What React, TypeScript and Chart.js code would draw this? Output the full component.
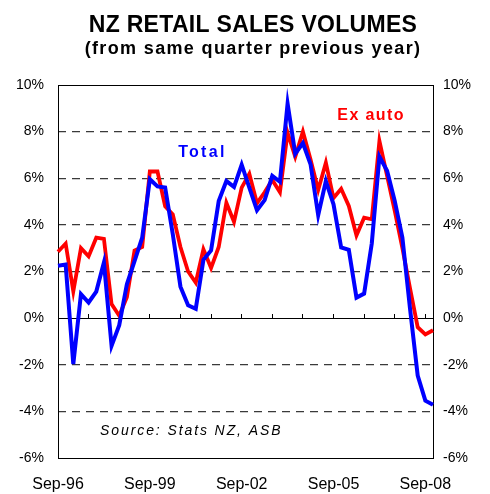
import React, { useEffect, useRef } from 'react';
import { Chart, registerables } from 'chart.js';

Chart.register(...registerables);

const TITLE = 'NZ RETAIL SALES VOLUMES';
const SUBTITLE = '(from same quarter previous year)';
const SOURCE = 'Source: Stats NZ, ASB';

const quarters = [
  'Sep-96', 'Dec-96', 'Mar-97', 'Jun-97', 'Sep-97', 'Dec-97', 'Mar-98', 'Jun-98', 'Sep-98', 'Dec-98',
  'Mar-99', 'Jun-99', 'Sep-99', 'Dec-99', 'Mar-00', 'Jun-00', 'Sep-00', 'Dec-00', 'Mar-01', 'Jun-01',
  'Sep-01', 'Dec-01', 'Mar-02', 'Jun-02', 'Sep-02', 'Dec-02', 'Mar-03', 'Jun-03', 'Sep-03', 'Dec-03',
  'Mar-04', 'Jun-04', 'Sep-04', 'Dec-04', 'Mar-05', 'Jun-05', 'Sep-05', 'Dec-05', 'Mar-06', 'Jun-06',
  'Sep-06', 'Dec-06', 'Mar-07', 'Jun-07', 'Sep-07', 'Dec-07', 'Mar-08', 'Jun-08', 'Sep-08', 'Dec-08',
];

const totalSales = [
  2.25, 2.3, -1.97, 1.03, 0.67, 1.14, 2.39, -1.19, -0.3, 1.45,
  2.45, 3.45, 5.96, 5.65, 5.6, 3.6, 1.35, 0.55, 0.4, 2.5,
  2.9, 5.02, 5.88, 5.63, 6.58, 5.6, 4.63, 5.06, 6.1, 5.85,
  9.2, 7.05, 7.51, 6.6, 4.42, 5.88, 4.88, 3.03, 2.93, 0.88,
  1.05, 3.2, 6.93, 6.32, 5.03, 3.46, 0.4, -2.46, -3.54, -3.72,
];

const exAutoSales = [
  2.85, 3.2, 1.15, 3.0, 2.65, 3.45, 3.4, 0.6, 0.1, 0.9,
  2.9, 3.05, 6.29, 6.29, 4.8, 4.45, 3.05, 2.0, 1.52, 2.95,
  2.15, 3.05, 4.95, 4.13, 5.6, 6.19, 4.93, 5.4, 5.93, 5.4,
  7.95, 6.92, 8.0, 6.8, 5.5, 6.67, 5.15, 5.55, 4.81, 3.55,
  4.31, 4.24, 7.6, 6.1, 4.6, 3.0, 1.28, -0.39, -0.7, -0.52,
];

const yMin = -6;
const yMax = 10;
const yStep = 2;
const labelEvery = 12;
const tickEvery = 4;

const BLUE = '#0000FF';
const RED = '#FF0000';
const FONT = '"Liberation Sans", Arial, sans-serif';

// in-plot text labels, anchored in data coordinates (category index, value)
const annotations = [
  { text: 'Total', index: 15.7, value: 6.9, color: BLUE, font: `bold 16px ${FONT}`, spacing: '2.3px' },
  { text: 'Ex auto', index: 36.5, value: 8.48, color: RED, font: `bold 16px ${FONT}`, spacing: '1.4px' },
  { text: SOURCE, index: 5.5, value: -5.02, color: '#000', font: `italic 14px ${FONT}`, spacing: '1.9px' },
];

const pct = (v: any) => `${v}%`;

const textPlugin = {
  id: 'texts',
  beforeDatasetsDraw(chart: any) {
    const { ctx, chartArea } = chart;
    ctx.save();
    ctx.strokeStyle = '#000';
    ctx.lineWidth = 1;
    ctx.strokeRect(
      Math.round(chartArea.left) + 0.5,
      Math.round(chartArea.top) + 0.5,
      Math.round(chartArea.right - chartArea.left),
      Math.round(chartArea.bottom - chartArea.top)
    );
    ctx.restore();
  },
  afterDraw(chart: any) {
    const { ctx, scales } = chart;
    const cx = chart.width / 2 + 8;
    ctx.save();
    ctx.fillStyle = '#000';
    ctx.textAlign = 'center';
    ctx.textBaseline = 'alphabetic';
    ctx.font = `bold 23px ${FONT}`;
    (ctx as any).letterSpacing = '0.3px';
    ctx.fillText(TITLE, cx, 31.5);
    ctx.font = `bold 18px ${FONT}`;
    (ctx as any).letterSpacing = '1.35px';
    ctx.fillText(SUBTITLE, cx, 54);
    ctx.textAlign = 'left';
    for (const a of annotations) {
      ctx.font = a.font;
      (ctx as any).letterSpacing = a.spacing;
      ctx.fillStyle = a.color;
      ctx.fillText(a.text, scales.x.getPixelForValue(a.index), scales.y.getPixelForValue(a.value));
    }
    ctx.restore();
  },
};

export default function App() {
  const canvasRef = useRef<HTMLCanvasElement | null>(null);

  useEffect(() => {
    const canvas = canvasRef.current;
    if (!canvas) return;
    const chart = new Chart(canvas, {
      type: 'line',
      data: {
        labels: quarters,
        datasets: [
          {
            label: 'Total',
            data: totalSales,
            borderColor: BLUE,
            backgroundColor: BLUE,
            borderWidth: 4,
            pointRadius: 0,
            tension: 0,
            fill: false,
          },
          {
            label: 'Ex auto',
            data: exAutoSales,
            borderColor: RED,
            backgroundColor: RED,
            borderWidth: 3.8,
            pointRadius: 0,
            tension: 0,
            fill: false,
          },
        ],
      },
      options: {
        responsive: false,
        animation: false,
        events: [],
        layout: { padding: { top: 85 } },
        plugins: {
          legend: { display: false },
          tooltip: { enabled: false },
          title: { display: false },
        },
        scales: {
          x: {
            type: 'category',
            offset: false,
            grid: { display: false, drawTicks: false },
            border: { display: false },
            ticks: {
              autoSkip: false,
              maxRotation: 0,
              minRotation: 0,
              padding: 17,
              color: '#000',
              font: { family: FONT, size: 16 },
            },
            afterBuildTicks: (s: any) => {
              s.ticks = s.ticks.filter((t: any) => t.value % labelEvery === 0);
            },
            afterFit: (s: any) => {
              s.height = 36;
            },
          },
          x2: {
            type: 'category',
            position: { y: 0 } as any,
            offset: false,
            grid: {
              display: true,
              drawOnChartArea: false,
              drawTicks: true,
              tickLength: -5,
              tickColor: '#000',
              tickWidth: 1,
              color: '#000',
            },
            border: { display: true, color: '#000', width: 1 },
            ticks: { display: false, autoSkip: false },
            afterBuildTicks: (s: any) => {
              s.ticks = s.ticks.filter((t: any) => t.value % tickEvery === 0);
            },
          },
          y: {
            position: 'left',
            min: yMin,
            max: yMax,
            ticks: {
              stepSize: yStep,
              callback: pct,
              padding: 14,
              color: '#000',
              font: { family: FONT, size: 14 },
            },
            grid: {
              drawTicks: false,
              lineWidth: 1.3,
              color: (c: any) =>
                c.tick && (c.tick.value === 0 || c.tick.value === yMin || c.tick.value === yMax)
                  ? 'rgba(0,0,0,0)'
                  : '#3a3a3a',
            },
            border: { display: false, dash: [8, 6] },
            afterFit: (s: any) => {
              s.width = 58;
            },
          },
          y2: {
            position: 'right',
            min: yMin,
            max: yMax,
            ticks: {
              stepSize: yStep,
              callback: pct,
              padding: 10,
              color: '#000',
              font: { family: FONT, size: 14 },
            },
            grid: { display: false, drawTicks: false },
            border: { display: false },
            afterFit: (s: any) => {
              s.width = 57;
            },
          },
        },
      },
      plugins: [textPlugin],
    } as any);
    return () => chart.destroy();
  }, []);

  return (
    <div style={{ position: 'absolute', left: 0, top: 0, width: 490, height: 494, background: '#fff' }}>
      <canvas ref={canvasRef} width={490} height={494} />
    </div>
  );
}
